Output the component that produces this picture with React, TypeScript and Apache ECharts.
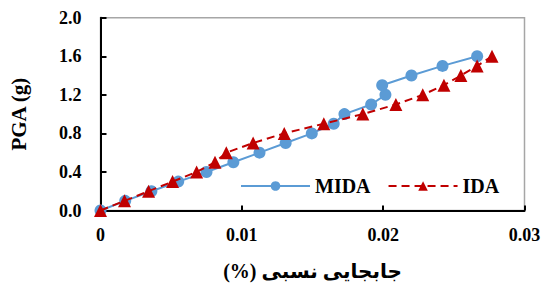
import React, { useEffect, useRef } from "react";
import * as echarts from "echarts";

const midaDrift = [0, 0.00175, 0.0036, 0.0055, 0.0075, 0.0094, 0.01125, 0.0131, 0.01495, 0.0165, 0.01726, 0.01915, 0.02016, 0.01993, 0.022, 0.0242, 0.02665];
const midaPGA = [0, 0.1, 0.2, 0.3, 0.4, 0.5, 0.6, 0.7, 0.8, 0.9, 1.0, 1.1, 1.2, 1.3, 1.4, 1.5, 1.6];
const idaDrift = [0, 0.0017, 0.0034, 0.0051, 0.0068, 0.0081, 0.0089, 0.0108, 0.013, 0.0158, 0.01856, 0.0209, 0.0228, 0.0243, 0.0255, 0.02665, 0.0277];
const idaPGA = [0, 0.1, 0.2, 0.3, 0.4, 0.5, 0.6, 0.7, 0.8, 0.9, 1.0, 1.1, 1.2, 1.3, 1.4, 1.5, 1.6];
const xTicks = { min: 0, max: 0.03, interval: 0.01 };
const yTicks = { min: 0, max: 2, interval: 0.4 };
const xTitle = "جابجایی نسبی (%)";
const yTitle = "PGA (g)";

const FONT = "'Liberation Serif', 'Times New Roman', 'DejaVu Serif', 'DejaVu Sans', serif";

export default function App() {
  const ref = useRef<HTMLDivElement>(null);
  useEffect(() => {
    document.body.style.margin = "0";
    const chart = echarts.init(ref.current!, null, { renderer: "svg" });
    chart.setOption({
      animation: false,
      backgroundColor: "#ffffff",
      textStyle: { fontFamily: FONT },
      grid: {
        left: 100.5,
        right: 20.5,
        top: 17.7,
        bottom: 76.5,
        containLabel: false,
        outerBoundsMode: "none",
        show: true,
        borderColor: "#a6a6a6",
        borderWidth: 1.5,
      },
      legend: {
        left: 240,
        top: 176,
        padding: 0,
        itemWidth: 69,
        itemHeight: 12,
        itemGap: 17,
        textStyle: { fontFamily: FONT, fontWeight: "bold", fontSize: 20, color: "#000" },
        data: ["MIDA", "IDA"],
      },
      xAxis: {
        type: "value",
        min: xTicks.min,
        max: xTicks.max,
        interval: xTicks.interval,
        name: "\u202B" + xTitle + "\u202C",
        nameLocation: "middle",
        nameGap: 50,
        nameTextStyle: { fontFamily: FONT, fontWeight: "bold", fontSize: 20, color: "#000" },
        axisLine: { show: true, lineStyle: { color: "#000", width: 2 } },
        axisTick: { show: true, inside: true, length: 5, lineStyle: { color: "#000", width: 2 } },
        axisLabel: {
          fontFamily: FONT,
          fontWeight: "bold",
          fontSize: 18,
          color: "#000",
          margin: 15,
          formatter: (v: number) => (v === 0 ? "0" : String(Number(v.toFixed(2)))),
        },
        splitLine: { show: false },
      },
      yAxis: {
        type: "value",
        min: yTicks.min,
        max: yTicks.max,
        interval: yTicks.interval,
        name: yTitle,
        nameLocation: "middle",
        nameGap: 71,
        nameRotate: 90,
        nameTextStyle: { fontFamily: FONT, fontWeight: "bold", fontSize: 21, color: "#000" },
        axisLine: { show: true, lineStyle: { color: "#000", width: 2 } },
        axisTick: { show: true, inside: true, length: 6, lineStyle: { color: "#000", width: 2 } },
        axisLabel: {
          fontFamily: FONT,
          fontWeight: "bold",
          fontSize: 18,
          color: "#000",
          margin: 19,
          formatter: (v: number) => v.toFixed(1),
        },
        splitLine: { show: false },
      },
      series: [
        {
          name: "MIDA",
          type: "line",
          data: midaDrift.map((x, i) => [x, midaPGA[i]]),
          symbol: "circle",
          symbolSize: 12,
          itemStyle: { color: "#5B9BD5" },
          lineStyle: { color: "#5B9BD5", width: 2 },
          z: 2,
        },
        {
          name: "IDA",
          type: "line",
          data: idaDrift.map((x, i) => [x, idaPGA[i]]),
          symbol: "triangle",
          symbolSize: 13,
          itemStyle: { color: "#C00000" },
          lineStyle: { color: "#C00000", width: 2, type: [8, 5] },
          z: 3,
        },
      ],
    });
    return () => chart.dispose();
  }, []);
  return <div ref={ref} style={{ width: 545, height: 287 }} />;
}
